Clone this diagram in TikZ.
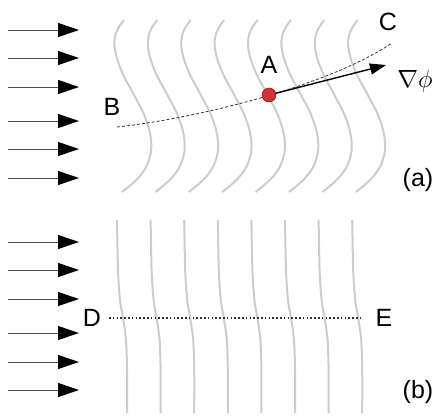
\documentclass[tikz,border=0pt]{standalone}
\usepackage{fontspec}
\setmainfont{Liberation Sans}
\usetikzlibrary{arrows.meta}
\definecolor{dotred}{RGB}{208,52,52}
\definecolor{dotedge}{RGB}{140,30,30}
\begin{document}
\begin{tikzpicture}[x=1pt,y=-1pt,
  wave/.style={draw=black!20, line width=2pt},
  flow/.style={draw=black!70, line width=1pt, -{Triangle[length=21pt,width=14pt,color=black,fill=black]}},
  lbl/.style={font=\fontsize{25}{29}\selectfont, inner sep=0pt, anchor=center},
  grad/.style={draw=black, line width=1.4pt, -{Triangle[length=16pt,width=11pt]}},
  pathdash/.style={draw=black!80, line width=0.8pt, dash pattern=on 3pt off 2pt},
  pathdot/.style={draw=black!80, line width=1.6pt, dash pattern=on 1.6pt off 2.2pt},
]
\useasboundingbox (0,0) rectangle (443,416);
% incoming arrows, panel (a)
\foreach \i/\y in {1/30,2/58,3/87,4/121,5/149,6/178}{
  \coordinate (sa\i) at (8,\y);
  \coordinate (ta\i) at (79,\y);
  \draw[flow] (sa\i) -- (ta\i);
}
% incoming arrows, panel (b)
\foreach \i/\y in {1/242,2/270,3/299,4/333,5/362,6/390}{
  \coordinate (sb\i) at (8,\y);
  \coordinate (tb\i) at (79,\y);
  \draw[flow] (sb\i) -- (tb\i);
}
% wave fronts, panel (a)
\foreach \k in {0,...,7}{
  \begin{scope}[xshift=\k*33.4pt]
  \draw[wave] plot[smooth, tension=0.7] coordinates {(124,20) (116,33) (115,50) (122,72) (134,95) (145,117) (151,140) (149,160) (139,177) (122,192)};
  \end{scope}
}
% wave fronts, panel (b)
\foreach \k in {0,...,7}{
  \begin{scope}[xshift=\k*33.6pt]
  \draw[wave] plot[smooth, tension=0.5] coordinates {(117,220) (118,270) (120,300) (123,318) (126,340) (127,370) (127,413)};
  \end{scope}
}
% ray B-C
\coordinate (B0) at (117,127);
\coordinate (C0) at (392,43);
\draw[pathdash] (B0) .. controls (200,118) and (330,85) .. (C0);
% point A and gradient
\node[circle, fill=dotred, draw=dotedge, line width=0.6pt, minimum size=14pt, inner sep=0pt] (A) at (269,95) {};
\coordinate (G) at (386,65);
\draw[grad] (A) -- (G);
% labels (a)
\node[lbl] (la) at (269,65) {A};
\node[lbl] (lb) at (112,107) {B};
\node[lbl] (lc) at (388,22) {C};
\node[lbl] (lg) at (415,81) {$\nabla\phi$};
\node[lbl] (pa) at (418,180) {(a)};
% panel (b)
\coordinate (D0) at (109,318);
\coordinate (E0) at (362,318);
\draw[pathdot] (D0) -- (E0);
\node[lbl] (ld) at (92,318) {D};
\node[lbl] (le) at (384,318) {E};
\node[lbl] (pb) at (418,392) {(b)};
\end{tikzpicture}
\end{document}
